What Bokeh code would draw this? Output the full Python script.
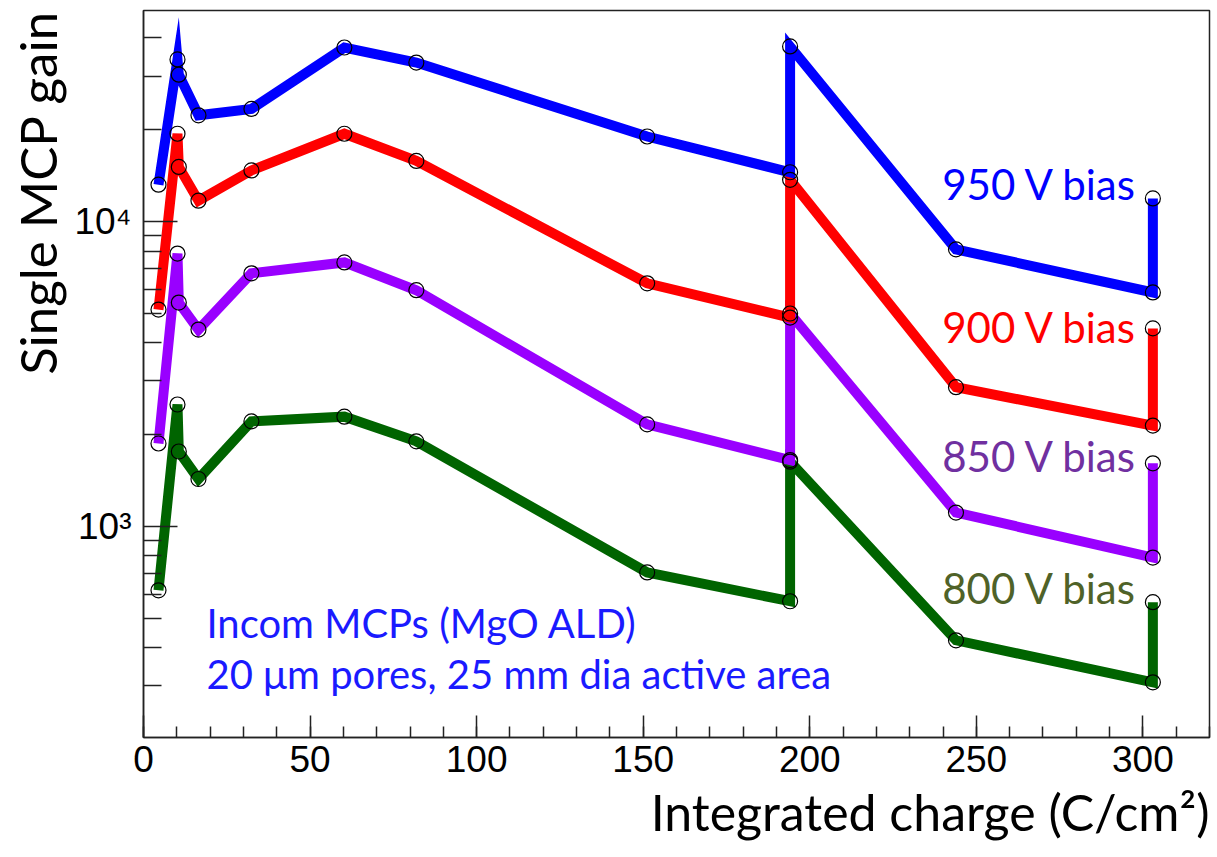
from bokeh.plotting import figure
from bokeh.models import Range1d, FixedTicker, CustomJSTickFormatter, Label, Title
from bokeh.embed import file_html
from bokeh.resources import INLINE

# ---- data ----
charge = [4.5, 10.2, 10.6, 16.5, 32.4, 60.3, 81.9, 151.2, 194.1, 194.1, 243.9, 303.0, 303.0]
gain_950 = [13200, 34000, 30300, 22300, 23400, 37200, 33200, 19000, 14500, 37500, 8100, 5850, 11900]
gain_900 = [5140, 19400, 15100, 11700, 14700, 19400, 15800, 6270, 4840, 13700, 2860, 2140, 4460]
gain_850 = [1870, 7850, 5420, 4420, 6760, 7340, 5950, 2160, 1650, 4990, 1110, 790, 1610]
gain_800 = [617, 2510, 1760, 1430, 2210, 2290, 1900, 706, 568, 1630, 423, 308, 564]

series_labels = ["950 V bias", "900 V bias", "850 V bias", "800 V bias"]
x_ticks = [0, 50, 100, 150, 200, 250, 300]
y_ticks = [1000, 10000]

x_min, x_max = 0, 320
y_min, y_max = 203, 49200

p = figure(width=1217, height=857, output_backend="svg", toolbar_location=None,
           x_range=Range1d(x_min, x_max), y_range=Range1d(y_min, y_max),
           y_axis_type="log", min_border_left=142, min_border_right=8,
           min_border_top=10, min_border_bottom=120)

p.grid.visible = False
p.outline_line_color = "#222222"
p.outline_line_width = 1.5
p.background_fill_color = "white"
p.border_fill_color = "white"

# x axis
p.xaxis.ticker = FixedTicker(ticks=x_ticks, minor_ticks=list(range(0, 321, 10)))
p.xaxis.major_tick_in = 22
p.xaxis.major_tick_out = 0
p.xaxis.minor_tick_in = 11
p.xaxis.minor_tick_out = 0
p.xaxis.major_label_standoff = 8
p.xaxis.major_label_text_font = "Liberation Sans"
p.xaxis.major_label_text_font_size = "37px"
p.xaxis.major_label_text_color = "black"

# y axis
minor_y = [v * m for v in (100, 1000, 10000) for m in range(2, 10)]
p.yaxis.ticker = FixedTicker(ticks=y_ticks, minor_ticks=minor_y)
p.yaxis.formatter = CustomJSTickFormatter(code="""
    if (tick == 1000) return '10\u00b3';
    if (tick == 10000) return '10\u2074';
    return '';
""")
p.yaxis.major_tick_in = 34
p.yaxis.major_tick_out = 0
p.yaxis.minor_tick_in = 18
p.yaxis.minor_tick_out = 0
p.yaxis.major_label_standoff = 12
p.yaxis.major_label_text_font = "Liberation Sans"
p.yaxis.major_label_text_font_size = "37px"
p.yaxis.major_label_text_color = "black"

for ax in (p.xaxis[0], p.yaxis[0]):
    ax.axis_line_color = "#222222"
    ax.axis_line_width = 1.5
    ax.major_tick_line_color = "#222222"
    ax.minor_tick_line_color = "#222222"
    ax.major_tick_line_width = 1.5
    ax.minor_tick_line_width = 1.5

colors = ["#0000FF", "#FF0000", "#9900FF", "#006400"]
series = [gain_950, gain_900, gain_850, gain_800]

for ys, c in reversed(list(zip(series, colors))):
    p.line(charge, ys, line_color=c, line_width=10, line_join="miter", line_cap="butt")

for ys in series:
    p.scatter(charge, ys, marker="circle", size=15, fill_color=None,
              line_color="black", line_width=1.2)

# series annotations
text_colors = ["#0000FF", "#FF0000", "#7030A0", "#4F6228"]
label_y = [13300, 4520, 1695, 630]
for t, c, yv in zip(series_labels, text_colors, label_y):
    p.add_layout(Label(x=298.5, y=yv, text=t, text_align="right", text_baseline="alphabetic",
                       text_font="Lato", text_font_size="42px", text_color=c))

# note
p.add_layout(Label(x=18.9, y=483, text="Incom MCPs (MgO ALD)", text_align="left",
                   text_baseline="alphabetic", text_font="Lato", text_font_size="40px",
                   text_color="#1A1AFF"))
p.add_layout(Label(x=18.9, y=329, text="20 \u03bcm pores, 25 mm dia active area", text_align="left",
                   text_baseline="alphabetic", text_font="Lato", text_font_size="40px",
                   text_color="#1A1AFF"))

# axis titles
p.add_layout(Title(text="Integrated charge (C/cm\u00b2)", align="right", text_font="Lato",
                   text_font_size="50px", text_font_style="normal", text_color="black",
                   standoff=11), "below")
p.add_layout(Title(text="Single MCP gain", align="right", text_font="Lato",
                   text_font_size="51px", text_font_style="normal", text_color="black",
                   standoff=8), "left")

open("out.html", "w").write(file_html(p, INLINE))
